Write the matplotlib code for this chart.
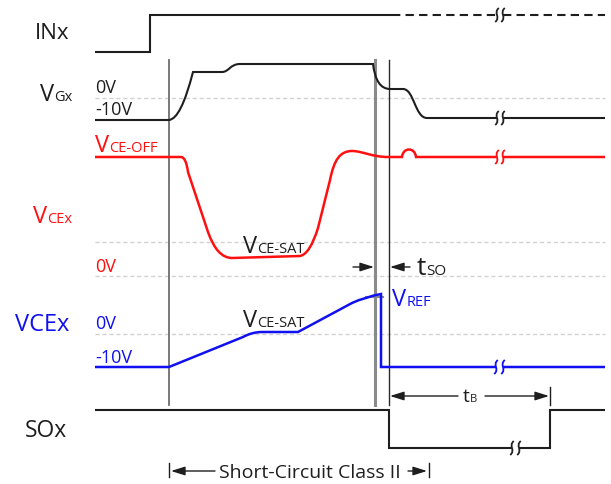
import matplotlib
matplotlib.use('Agg')
import matplotlib.pyplot as plt
from matplotlib.path import Path
from matplotlib.patches import PathPatch

# ---------------- data (pixel-space timing diagram) ----------------
# each waveform: list of (code, x, y); M=moveto, L=lineto, C=cubic bezier vertex, Q=quadratic vertex
INX_SOLID = [('M', 95, 52), ('L', 150, 52), ('L', 150, 15), ('L', 392, 15)]
INX_DASH = [('M', 392, 15), ('L', 497, 15), ('M', 503, 15), ('L', 605, 15)]

VGX = [('M', 95, 120), ('L', 169, 120), ('Q', 181, 119), ('Q', 193, 72),
       ('L', 222, 72), ('C', 229, 72), ('C', 230, 64), ('C', 240, 64),
       ('L', 373, 64), ('Q', 376, 89), ('Q', 390, 89),
       ('L', 403, 89), ('C', 414, 89), ('C', 415, 118), ('C', 427, 118),
       ('L', 497, 118), ('M', 503, 118), ('L', 605, 118)]

VCE = [('M', 95, 157), ('L', 181, 157), ('Q', 186, 157), ('Q', 188, 172),
       ('L', 208, 232), ('Q', 217, 258), ('Q', 232, 258),
       ('L', 300, 256), ('Q', 310, 254), ('Q', 318, 228),
       ('L', 330, 180), ('C', 334, 160), ('C', 340, 151), ('C', 352, 151),
       ('C', 362, 151), ('C', 372, 157), ('C', 388, 157),
       ('L', 402, 157), ('C', 403, 147), ('C', 415, 147), ('C', 416, 157),
       ('L', 497, 157), ('M', 503, 157), ('L', 605, 157)]

VCE_DET = [('M', 95, 367), ('L', 169, 367), ('L', 243, 337), ('Q', 252, 332), ('Q', 262, 332),
           ('L', 298, 332), ('L', 352, 303), ('Q', 365, 297), ('Q', 381, 294),
           ('L', 381, 367), ('L', 496, 367), ('M', 503, 367), ('L', 605, 367)]

SOX = [('M', 95, 410), ('L', 389, 410), ('L', 389, 448), ('L', 512, 448),
       ('M', 519, 448), ('L', 550, 448), ('L', 550, 410), ('L', 605, 410)]

# break marks: (x, y, color)
BREAKS = [(497, 15, '#222222'), (503, 15, '#222222'),
          (497, 118, '#222222'), (503, 118, '#222222'),
          (497, 157, '#ff1010'), (503, 157, '#ff1010'),
          (496, 367, '#1010f0'), (503, 367, '#1010f0'),
          (512, 448, '#222222'), (519, 448, '#222222')]

REF_Y = [98, 242, 276, 334]          # dashed grey reference levels
MARKER_X = [169, 375, 389]           # vertical timing markers

BLACK, RED, BLUE = '#1e1e1e', '#ff1010', '#1010f0'

# ---------------- figure ----------------
W, H = 611, 484
fig = plt.figure(figsize=(W / 100, H / 100), dpi=100)
ax = fig.add_axes([0, 0, 1, 1])
ax.set_xlim(0, W)
ax.set_ylim(H, 0)
ax.axis('off')
plt.rcParams['font.family'] = ['Open Sans', 'DejaVu Sans']

CODES = {'M': Path.MOVETO, 'L': Path.LINETO, 'C': Path.CURVE4, 'Q': Path.CURVE3}


def wave(verts, color, lw, ls='-', z=3):
    pts = [(v[1], v[2]) for v in verts]
    codes = [CODES[v[0]] for v in verts]
    ax.add_patch(PathPatch(Path(pts, codes), fill=False, edgecolor=color, lw=lw,
                           linestyle=ls, capstyle='butt', joinstyle='miter', zorder=z))


def brk(x, y, color):
    pts = [(x + 1.8, y - 7), (x - 4, y - 2), (x + 4, y + 2), (x - 1.8, y + 7)]
    codes = [Path.MOVETO, Path.CURVE4, Path.CURVE4, Path.CURVE4]
    ax.add_patch(PathPatch(Path(pts, codes), fill=False, edgecolor=color, lw=1.3, zorder=4))


def label(x, y, main, sub, color, size=17, subsize=10.5):
    t = ax.text(x, y, main, color=color, fontsize=size, va='baseline', ha='left')
    if sub:
        ax.annotate(sub, xy=(1, y), xycoords=(t, 'data'), color=color,
                    fontsize=subsize, va='baseline', ha='left')


def arrow(x0, y0, x1, y1):
    ax.annotate('', xy=(x1, y1), xytext=(x0, y0),
                arrowprops=dict(arrowstyle='-|>,head_length=0.7,head_width=0.22',
                                color=BLACK, lw=1.0, shrinkA=0, shrinkB=0, mutation_scale=12))


# reference levels
for y in REF_Y:
    ax.plot([95, 605], [y, y], color='#d2d2d2', lw=1.0, dashes=(3, 2), zorder=1)

# vertical markers
ax.plot([MARKER_X[0]] * 2, [60, 405], color='#6e6e6e', lw=1.3, zorder=2)
ax.plot([MARKER_X[1]] * 2, [60, 405], color='#8a8a8a', lw=2.2, zorder=2)
ax.plot([MARKER_X[2]] * 2, [60, 405], color='#2a2a2a', lw=1.0, zorder=2)

# waveforms
wave(INX_SOLID, BLACK, 1.5)
wave(INX_DASH, BLACK, 1.5, ls=(0, (4, 2.5)))
wave(VGX, BLACK, 1.5)
wave(VCE, RED, 1.8)
wave(VCE_DET, BLUE, 1.8)
wave(SOX, BLACK, 1.5)
for bx, by, bc in BREAKS:
    brk(bx, by, bc)

# VREF level tick
ax.plot([366, 383], [297, 297], color='#8a8a8a', lw=1.5, zorder=2)

# labels
label(35, 39, 'INx', None, BLACK, size=16)
label(40, 101, 'V', 'Gx', BLACK)
label(95, 93, '0V', None, BLACK, size=13)
label(95, 115, '-10V', None, BLACK, size=13)
label(95, 152, 'V', 'CE-OFF', RED)
label(33, 223, 'V', 'CEx', RED)
label(95, 272, '0V', None, RED, size=13)
label(243, 253, 'V', 'CE-SAT', BLACK)
label(417, 275, 't', 'SO', BLACK, size=19, subsize=11)
label(15, 331, 'VCEx', None, BLUE, size=17)
label(95, 329, '0V', None, BLUE, size=13)
label(95, 363, '-10V', None, BLUE, size=13)
label(243, 327, 'V', 'CE-SAT', BLACK)
label(392, 306, 'V', 'REF', BLUE)
label(463, 402, 't', 'B', BLACK, size=14, subsize=8)
label(25, 437, 'SOx', None, BLACK, size=16.5)

# t_SO arrows
arrow(353, 267, 374, 267)
arrow(410, 267, 390, 267)

# t_B arrows
arrow(458, 396, 390, 396)
arrow(485, 396, 549, 396)
ax.plot([550, 550], [387, 405], color=BLACK, lw=1.0)

# short-circuit class annotation
ax.plot([169, 169], [463, 477], color=BLACK, lw=1.0)
ax.plot([429, 429], [463, 477], color=BLACK, lw=1.0)
arrow(215, 471, 171, 471)
arrow(408, 471, 427, 471)
ax.text(219, 478, 'Short-Circuit Class II', color=BLACK, fontsize=14, va='baseline', ha='left')

fig.savefig('out.png', dpi=100)
